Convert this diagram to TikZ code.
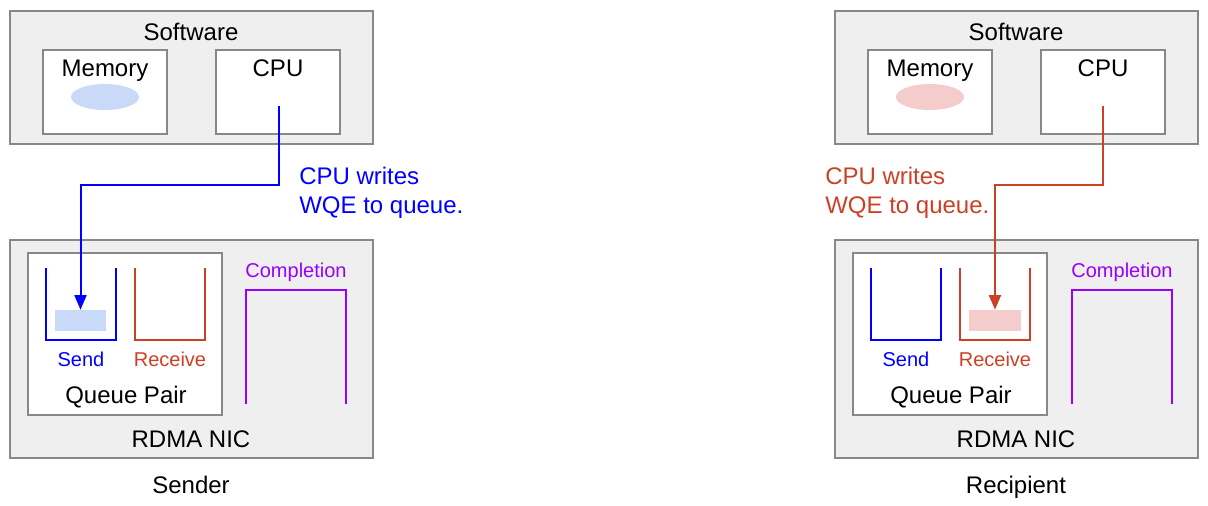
\documentclass[tikz,border=0pt]{standalone}
\usepackage{fontspec}
\setmainfont{Liberation Sans}
\usetikzlibrary{fit,arrows.meta,shapes.geometric}
\definecolor{qblue}{HTML}{0000FF}
\definecolor{qred}{HTML}{CC4125}
\definecolor{qpurple}{HTML}{9900FF}
\definecolor{lblue}{HTML}{C9DAF8}
\definecolor{lred}{HTML}{F4CCCC}
\definecolor{boxfill}{HTML}{EFEFEF}
\definecolor{boxline}{HTML}{888888}
\begin{document}
\begin{tikzpicture}[x=0.75pt,y=-0.75pt,
  outerbox/.style={draw=boxline,fill=boxfill,line width=0.9pt,inner sep=0pt},
  innerbox/.style={draw=boxline,fill=white,line width=0.9pt,inner sep=0pt},
  area/.style={inner sep=0pt},
  bigtxt/.style={font=\fontsize{18}{21}\selectfont,inner sep=0pt,anchor=base},
  smalltxt/.style={font=\fontsize{15}{18}\selectfont,inner sep=0pt,anchor=base},
  bucket/.style={line width=1.6pt},
  flow/.style={line width=1.5pt,-{Triangle[length=11pt,width=9pt]}},
]
\useasboundingbox (0,0) rectangle (1208,506);

% ---------------- Sender ----------------
\node[outerbox,fit={(10,11) (373,144)}] (swL) {};
\node[bigtxt] (swLt) at (191,41) {Software};
\node[innerbox,fit={(43,50) (167,134)}] (memL) {};
\node[bigtxt] (memLt) at (105,77) {Memory};
\node[fill=lblue,ellipse,minimum width=51pt,minimum height=19.5pt,inner sep=0pt] (ellL) at (105,97) {};
\node[innerbox,fit={(216,50) (340,134)}] (cpuL) {};
\node[bigtxt] (cpuLt) at (278,77) {CPU};

\node[outerbox,fit={(10,240) (373,458)}] (nicL) {};
\node[innerbox,fit={(28,253) (222,415)}] (qpL) {};
\node[area,fit={(46,268) (116,340)}] (sendL) {};
\node[area,fit={(135,268) (205,340)}] (recvL) {};
\node[area,fit={(246,290) (346,404)}] (compL) {};
\draw[bucket,qblue] (sendL.north west) |- (sendL.south east) -- (sendL.north east);
\draw[bucket,qred] (recvL.north west) |- (recvL.south east) -- (recvL.north east);
\draw[bucket,qpurple] (compL.south west) |- (compL.north east) -- (compL.south east);
\node[fill=lblue,inner sep=0pt,fit={(55,310) (106,331)}] (itemL) {};
\node[smalltxt,qblue] (sendLt) at (81,367) {Send};
\node[smalltxt,qred] (recvLt) at (170,367) {Receive};
\node[smalltxt,qpurple] (compLt) at (296,277) {Completion};
\node[bigtxt] (qpLt) at (126,403) {Queue Pair};
\node[bigtxt] (nicLt) at (191,447) {RDMA NIC};
\node[bigtxt] (sendert) at (191,493) {Sender};

\coordinate (startL) at (279,106);
\coordinate (bendL) at (80.5,185);
\draw[flow,qblue] (startL) |- (bendL) -- (itemL.north);
\node[bigtxt,anchor=base west,text=qblue] (labL1) at (299,185) {CPU writes};
\node[bigtxt,anchor=base west,text=qblue] (labL2) at (299,214) {WQE to queue.};

% ---------------- Recipient ----------------
\node[outerbox,fit={(835,11) (1198,144)}] (swR) {};
\node[bigtxt] (swRt) at (1016,41) {Software};
\node[innerbox,fit={(868,50) (992,134)}] (memR) {};
\node[bigtxt] (memRt) at (930,77) {Memory};
\node[fill=lred,ellipse,minimum width=51pt,minimum height=19.5pt,inner sep=0pt] (ellR) at (930,97) {};
\node[innerbox,fit={(1041,50) (1165,134)}] (cpuR) {};
\node[bigtxt] (cpuRt) at (1103,77) {CPU};

\node[outerbox,fit={(835,240) (1198,458)}] (nicR) {};
\node[innerbox,fit={(853,253) (1047,415)}] (qpR) {};
\node[area,fit={(871,268) (941,340)}] (sendR) {};
\node[area,fit={(960,268) (1030,340)}] (recvR) {};
\node[area,fit={(1072,290) (1172,404)}] (compR) {};
\draw[bucket,qblue] (sendR.north west) |- (sendR.south east) -- (sendR.north east);
\draw[bucket,qred] (recvR.north west) |- (recvR.south east) -- (recvR.north east);
\draw[bucket,qpurple] (compR.south west) |- (compR.north east) -- (compR.south east);
\node[fill=lred,inner sep=0pt,fit={(969,310) (1021,331)}] (itemR) {};
\node[smalltxt,qblue] (sendRt) at (906,367) {Send};
\node[smalltxt,qred] (recvRt) at (995,367) {Receive};
\node[smalltxt,qpurple] (compRt) at (1122,277) {Completion};
\node[bigtxt] (qpRt) at (951,403) {Queue Pair};
\node[bigtxt] (nicRt) at (1016,447) {RDMA NIC};
\node[bigtxt] (recipt) at (1016,493) {Recipient};

\coordinate (startR) at (1103,106);
\coordinate (bendR) at (995,185);
\draw[flow,qred] (startR) |- (bendR) -- (itemR.north);
\node[bigtxt,anchor=base west,text=qred] (labR1) at (825,185) {CPU writes};
\node[bigtxt,anchor=base west,text=qred] (labR2) at (825,214) {WQE to queue.};
\end{tikzpicture}
\end{document}
